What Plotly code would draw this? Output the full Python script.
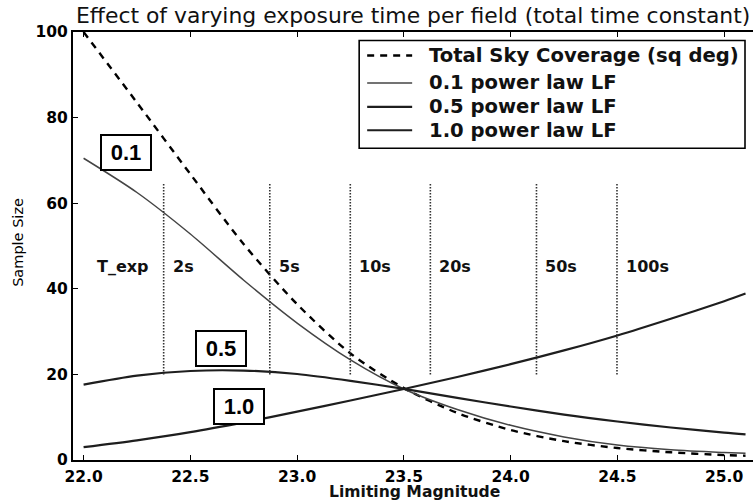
import plotly.graph_objects as go

# ---------------- data ----------------
mags = [22.0, 22.25, 22.5, 22.75, 23.0, 23.25, 23.5, 23.75, 24.0, 24.25, 24.5, 24.75, 25.0, 25.1]
coverage = [100, 83.5, 66.8, 50.4, 36.4, 24.9, 16.8, 11.0, 7.0, 4.4, 2.8, 1.8, 1.15, 1.0]
lf_01 = [70.5, 62.5, 52.8, 42.0, 32.0, 23.4, 16.6, 11.8, 8.1, 5.4, 3.5, 2.4, 1.75, 1.55]
lf_05 = [17.6, 19.7, 20.8, 20.9, 20.1, 18.5, 16.6, 14.5, 12.5, 10.6, 9.0, 7.6, 6.4, 6.0]
lf_10 = [3.0, 4.6, 6.5, 8.8, 11.3, 13.9, 16.6, 19.4, 22.4, 25.6, 29.1, 33.0, 37.1, 38.9]

series_names = ["Total Sky Coverage (sq deg)", "0.1 power law LF", "0.5 power law LF", "1.0 power law LF"]

texp_labels = ["2s", "5s", "10s", "20s", "50s", "100s"]
texp_mags = [22.375, 22.872, 23.249, 23.624, 24.121, 24.498]

box_labels = ["0.1", "0.5", "1.0"]
box_x = [22.198, 22.645, 22.729]
box_y = [71.8, 26.0, 12.5]

x_ticks = [22.0, 22.5, 23.0, 23.5, 24.0, 24.5, 25.0]
y_ticks = [0, 20, 40, 60, 80, 100]

# ---------------- styling ----------------
W, H = 753, 504
ML, MR, MT, MB = 72.7, 0, 31.5, 43.5
FONT = "DejaVu Sans"
styles = [
    dict(color="#000000", width=2.4, dash="7px,6px"),
    dict(color="#444444", width=1.5, dash="solid"),
    dict(color="#1e1e1e", width=2.2, dash="solid"),
    dict(color="#1e1e1e", width=2.2, dash="solid"),
]
values = [coverage, lf_01, lf_05, lf_10]

fig = go.Figure()
for name, vals, st in zip(series_names, values, styles):
    fig.add_trace(go.Scatter(x=mags, y=vals, name=name, mode="lines",
                             line=dict(shape="spline", smoothing=0.8, **st),
                             showlegend=False, hoverinfo="skip"))

pw = W - ML - MR
ph = H - MT - MB
def px_x(p):
    return (p - ML) / pw
def px_y(p):
    return (H - MB - p) / ph

shapes = []
annotations = []

# dotted exposure-time markers
for m in texp_mags:
    shapes.append(dict(type="line", xref="x", yref="y", x0=m, x1=m, y0=20, y1=64.5,
                       line=dict(color="#333333", width=1.6, dash="1.5px,1.5px")))
annotations.append(dict(x=22.054, y=45.2, xref="x", yref="y", text="T_exp", showarrow=False,
                        xanchor="left", yanchor="middle",
                        font=dict(family=FONT, size=16, color="#111111", weight="bold")))
for lab, m in zip(texp_labels, texp_mags):
    annotations.append(dict(x=m, y=45.2, xref="x", yref="y", text=lab, showarrow=False,
                            xanchor="left", yanchor="middle", xshift=7,
                            font=dict(family=FONT, size=16, color="#111111", weight="bold")))

# boxed curve labels
for lab, bx, by in zip(box_labels, box_x, box_y):
    annotations.append(dict(x=bx, y=by, xref="x", yref="y", text=lab, showarrow=False,
                            xanchor="center", yanchor="middle",
                            width=46, height=31, borderpad=1, borderwidth=2,
                            bordercolor="#000000", bgcolor="#ffffff",
                            font=dict(family="Liberation Sans", size=22, color="#000000", weight="bold")))

# legend box (drawn manually to match the matplotlib legend)
shapes.append(dict(type="rect", xref="paper", yref="paper",
                   x0=px_x(359), x1=px_x(745), y0=px_y(148), y1=px_y(40),
                   line=dict(color="#000000", width=1.6), fillcolor="#ffffff", layer="above"))
row_y = [55, 82.5, 106.5, 130]
for name, st, ry in zip(series_names, styles, row_y):
    shapes.append(dict(type="line", xref="paper", yref="paper",
                       x0=px_x(367), x1=px_x(412), y0=px_y(ry), y1=px_y(ry),
                       line=dict(color=st["color"], width=st["width"], dash=st["dash"]), layer="above"))
    annotations.append(dict(x=px_x(427), y=px_y(ry), xref="paper", yref="paper", text=name,
                            showarrow=False, xanchor="left", yanchor="middle",
                            font=dict(family=FONT, size=19.6, color="#111111", weight="bold")))

# axis titles
annotations.append(dict(x=px_x(414), y=px_y(493), xref="paper", yref="paper",
                        text="Limiting Magnitude", showarrow=False, xanchor="center", yanchor="middle",
                        font=dict(family=FONT, size=15.6, color="#111111", weight="bold")))
annotations.append(dict(x=px_x(17.5), y=px_y(242), xref="paper", yref="paper",
                        text="Sample Size", showarrow=False, xanchor="center", yanchor="middle",
                        textangle=-90, font=dict(family=FONT, size=14.5, color="#000000")))

tickfont = dict(family=FONT, size=15.5, color="#000000", weight="bold")
fig.update_layout(
    width=W, height=H,
    margin=dict(l=ML, r=MR, t=MT, b=MB, pad=0),
    paper_bgcolor="white", plot_bgcolor="white",
    title=dict(text="Effect of varying exposure time per field (total time constant)",
               x=76 / W, xanchor="left", y=1 - 15 / H, yanchor="middle", xref="container", yref="container",
               font=dict(family=FONT, size=21.9, color="#111111")),
    xaxis=dict(range=[21.9504, 25.135], tickvals=x_ticks, ticktext=[f"{v:.1f}" for v in x_ticks],
               ticks="inside", ticklen=5, tickwidth=1.3, tickcolor="#000000",
               showline=True, linecolor="#000000", linewidth=2, mirror="ticks",
               showgrid=False, zeroline=False, tickfont=tickfont, automargin=False,
               ticklabelstandoff=1),
    yaxis=dict(range=[0, 100], tickvals=y_ticks, ticks="inside", ticklen=5, tickwidth=1.3,
               tickcolor="#000000", showline=True, linecolor="#000000", linewidth=2, mirror=False,
               showgrid=False, zeroline=False, tickfont=tickfont, automargin=False),
    yaxis2=dict(range=[0, 100], overlaying="y", side="right", tickvals=y_ticks, ticks="inside",
                ticklen=5, tickwidth=1.3, tickcolor="#000000", showticklabels=False,
                showline=False, showgrid=False, zeroline=False, automargin=False),
    shapes=shapes, annotations=annotations,
)

fig.write_html("out.html", config={"displayModeBar": False},
               post_script="document.body.style.margin='0px';document.body.style.overflow='hidden';")
